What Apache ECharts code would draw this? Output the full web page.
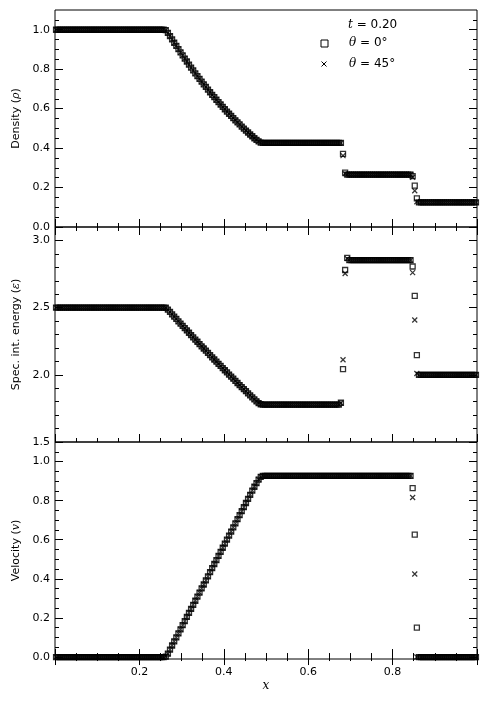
<!DOCTYPE html>
<html><head><meta charset="utf-8">
<script src="https://cdn.jsdelivr.net/npm/echarts@6/dist/echarts.min.js"></script>
<style>html,body{margin:0;padding:0;background:#fff}#c{width:488px;height:703px}</style>
</head><body><div id="c"></div>
<script>
// cell positions
const xs = [
0.0025,0.0075,0.0125,0.0175,0.0225,0.0275,0.0325,0.0375,0.0425,0.0475,
0.0525,0.0575,0.0625,0.0675,0.0725,0.0775,0.0825,0.0875,0.0925,0.0975,
0.1025,0.1075,0.1125,0.1175,0.1225,0.1275,0.1325,0.1375,0.1425,0.1475,
0.1525,0.1575,0.1625,0.1675,0.1725,0.1775,0.1825,0.1875,0.1925,0.1975,
0.2025,0.2075,0.2125,0.2175,0.2225,0.2275,0.2325,0.2375,0.2425,0.2475,
0.2525,0.2575,0.2625,0.2675,0.2725,0.2775,0.2825,0.2875,0.2925,0.2975,
0.3025,0.3075,0.3125,0.3175,0.3225,0.3275,0.3325,0.3375,0.3425,0.3475,
0.3525,0.3575,0.3625,0.3675,0.3725,0.3775,0.3825,0.3875,0.3925,0.3975,
0.4025,0.4075,0.4125,0.4175,0.4225,0.4275,0.4325,0.4375,0.4425,0.4475,
0.4525,0.4575,0.4625,0.4675,0.4725,0.4775,0.4825,0.4875,0.4925,0.4975,
0.5025,0.5075,0.5125,0.5175,0.5225,0.5275,0.5325,0.5375,0.5425,0.5475,
0.5525,0.5575,0.5625,0.5675,0.5725,0.5775,0.5825,0.5875,0.5925,0.5975,
0.6025,0.6075,0.6125,0.6175,0.6225,0.6275,0.6325,0.6375,0.6425,0.6475,
0.6525,0.6575,0.6625,0.6675,0.6725,0.6775,0.6825,0.6875,0.6925,0.6975,
0.7025,0.7075,0.7125,0.7175,0.7225,0.7275,0.7325,0.7375,0.7425,0.7475,
0.7525,0.7575,0.7625,0.7675,0.7725,0.7775,0.7825,0.7875,0.7925,0.7975,
0.8025,0.8075,0.8125,0.8175,0.8225,0.8275,0.8325,0.8375,0.8425,0.8475,
0.8525,0.8575,0.8625,0.8675,0.8725,0.8775,0.8825,0.8875,0.8925,0.8975,
0.9025,0.9075,0.9125,0.9175,0.9225,0.9275,0.9325,0.9375,0.9425,0.9475,
0.9525,0.9575,0.9625,0.9675,0.9725,0.9775,0.9825,0.9875,0.9925,0.9975];

// Density, theta = 0 (squares)
const rho0 = [
1,1,1,1,1,1,1,1,1,1, 1,1,1,1,1,1,1,1,1,1, 1,1,1,1,1,1,1,1,1,1, 1,1,1,1,1,1,1,1,1,1, 1,1,1,1,1,1,1,1,1,1,
1,1,0.998,0.984,0.968,0.951,0.934,0.918,0.902,0.885,
0.870,0.854,0.839,0.823,0.808,0.794,0.779,0.765,0.751,0.737,
0.723,0.710,0.696,0.683,0.670,0.658,0.645,0.633,0.621,0.609,
0.597,0.585,0.574,0.563,0.552,0.541,0.530,0.520,0.509,0.499,
0.489,0.479,0.469,0.460,0.450,0.442,0.434,0.428,0.426,0.426,
0.426,0.426,0.426,0.426,0.426,0.426,0.426,0.426,0.426,0.426,
0.426,0.426,0.426,0.426,0.426,0.426,0.426,0.426,0.426,0.426,
0.426,0.426,0.426,0.426,0.426,0.426,0.426,0.426,0.426,0.426,
0.426,0.426,0.426,0.426,0.426,0.426,0.371,0.276,0.266,0.266,
0.266,0.266,0.266,0.266,0.266,0.266,0.266,0.266,0.266,0.266,
0.266,0.266,0.266,0.266,0.266,0.266,0.266,0.266,0.266,0.266,
0.266,0.266,0.266,0.266,0.266,0.266,0.266,0.266,0.266,0.258,
0.210,0.145,0.125,0.125,0.125,0.125,0.125,0.125,0.125,0.125,
0.125,0.125,0.125,0.125,0.125,0.125,0.125,0.125,0.125,0.125,
0.125,0.125,0.125,0.125,0.125,0.125,0.125,0.125,0.125,0.125];

// Density, theta = 45 (crosses)
const rho45 = [
1,1,1,1,1,1,1,1,1,1, 1,1,1,1,1,1,1,1,1,1, 1,1,1,1,1,1,1,1,1,1, 1,1,1,1,1,1,1,1,1,1, 1,1,1,1,1,1,1,1,1,1,
1,1,0.998,0.984,0.968,0.951,0.934,0.918,0.902,0.885,
0.870,0.854,0.839,0.823,0.808,0.794,0.779,0.765,0.751,0.737,
0.723,0.710,0.696,0.683,0.670,0.658,0.645,0.633,0.621,0.609,
0.597,0.585,0.574,0.563,0.552,0.541,0.530,0.520,0.509,0.499,
0.489,0.479,0.469,0.460,0.450,0.442,0.434,0.428,0.426,0.426,
0.426,0.426,0.426,0.426,0.426,0.426,0.426,0.426,0.426,0.426,
0.426,0.426,0.426,0.426,0.426,0.426,0.426,0.426,0.426,0.426,
0.426,0.426,0.426,0.426,0.426,0.426,0.426,0.426,0.426,0.426,
0.426,0.426,0.426,0.426,0.426,0.426,0.362,0.270,0.266,0.266,
0.266,0.266,0.266,0.266,0.266,0.266,0.266,0.266,0.266,0.266,
0.266,0.266,0.266,0.266,0.266,0.266,0.266,0.266,0.266,0.266,
0.266,0.266,0.266,0.266,0.266,0.266,0.266,0.266,0.266,0.252,
0.184,0.128,0.125,0.125,0.125,0.125,0.125,0.125,0.125,0.125,
0.125,0.125,0.125,0.125,0.125,0.125,0.125,0.125,0.125,0.125,
0.125,0.125,0.125,0.125,0.125,0.125,0.125,0.125,0.125,0.125];

// Specific internal energy, theta = 0
const e0 = [
2.5,2.5,2.5,2.5,2.5,2.5,2.5,2.5,2.5,2.5, 2.5,2.5,2.5,2.5,2.5,2.5,2.5,2.5,2.5,2.5,
2.5,2.5,2.5,2.5,2.5,2.5,2.5,2.5,2.5,2.5, 2.5,2.5,2.5,2.5,2.5,2.5,2.5,2.5,2.5,2.5,
2.5,2.5,2.5,2.5,2.5,2.5,2.5,2.5,2.5,2.5,
2.5,2.5,2.499,2.485,2.468,2.450,2.433,2.416,2.398,2.381,
2.364,2.347,2.330,2.313,2.296,2.279,2.262,2.246,2.229,2.212,
2.196,2.180,2.163,2.147,2.130,2.114,2.098,2.082,2.066,2.050,
2.034,2.018,2.002,1.986,1.971,1.955,1.939,1.924,1.908,1.893,
1.878,1.862,1.847,1.832,1.817,1.803,1.790,1.781,1.778,1.778,
1.778,1.778,1.778,1.778,1.778,1.778,1.778,1.778,1.778,1.778,
1.778,1.778,1.778,1.778,1.778,1.778,1.778,1.778,1.778,1.778,
1.778,1.778,1.778,1.778,1.778,1.778,1.778,1.778,1.778,1.778,
1.778,1.778,1.778,1.778,1.778,1.792,2.042,2.780,2.870,2.853,
2.853,2.853,2.853,2.853,2.853,2.853,2.853,2.853,2.853,2.853,
2.853,2.853,2.853,2.853,2.853,2.853,2.853,2.853,2.853,2.853,
2.853,2.853,2.853,2.853,2.853,2.853,2.853,2.853,2.853,2.806,
2.587,2.146,2.0,2.0,2.0,2.0,2.0,2.0,2.0,2.0,
2.0,2.0,2.0,2.0,2.0,2.0,2.0,2.0,2.0,2.0,
2.0,2.0,2.0,2.0,2.0,2.0,2.0,2.0,2.0,2.0];

// Specific internal energy, theta = 45
const e45 = [
2.5,2.5,2.5,2.5,2.5,2.5,2.5,2.5,2.5,2.5, 2.5,2.5,2.5,2.5,2.5,2.5,2.5,2.5,2.5,2.5,
2.5,2.5,2.5,2.5,2.5,2.5,2.5,2.5,2.5,2.5, 2.5,2.5,2.5,2.5,2.5,2.5,2.5,2.5,2.5,2.5,
2.5,2.5,2.5,2.5,2.5,2.5,2.5,2.5,2.5,2.5,
2.5,2.5,2.499,2.485,2.468,2.450,2.433,2.416,2.398,2.381,
2.364,2.347,2.330,2.313,2.296,2.279,2.262,2.246,2.229,2.212,
2.196,2.180,2.163,2.147,2.130,2.114,2.098,2.082,2.066,2.050,
2.034,2.018,2.002,1.986,1.971,1.955,1.939,1.924,1.908,1.893,
1.878,1.862,1.847,1.832,1.817,1.803,1.790,1.781,1.778,1.778,
1.778,1.778,1.778,1.778,1.778,1.778,1.778,1.778,1.778,1.778,
1.778,1.778,1.778,1.778,1.778,1.778,1.778,1.778,1.778,1.778,
1.778,1.778,1.778,1.778,1.778,1.778,1.778,1.778,1.778,1.778,
1.778,1.778,1.778,1.778,1.778,1.790,2.112,2.754,2.865,2.853,
2.853,2.853,2.853,2.853,2.853,2.853,2.853,2.853,2.853,2.853,
2.853,2.853,2.853,2.853,2.853,2.853,2.853,2.853,2.853,2.853,
2.853,2.853,2.853,2.853,2.853,2.853,2.853,2.853,2.853,2.761,
2.408,2.010,2.0,2.0,2.0,2.0,2.0,2.0,2.0,2.0,
2.0,2.0,2.0,2.0,2.0,2.0,2.0,2.0,2.0,2.0,
2.0,2.0,2.0,2.0,2.0,2.0,2.0,2.0,2.0,2.0];

// Velocity, theta = 0
const v0 = [
0,0,0,0,0,0,0,0,0,0, 0,0,0,0,0,0,0,0,0,0, 0,0,0,0,0,0,0,0,0,0, 0,0,0,0,0,0,0,0,0,0, 0,0,0,0,0,0,0,0,0,0,
0,0,0.002,0.017,0.038,0.059,0.080,0.101,0.121,0.142,
0.163,0.184,0.205,0.226,0.246,0.267,0.288,0.309,0.330,0.351,
0.371,0.392,0.413,0.434,0.455,0.476,0.496,0.517,0.538,0.559,
0.580,0.601,0.621,0.642,0.663,0.684,0.705,0.726,0.746,0.767,
0.788,0.809,0.830,0.851,0.871,0.890,0.908,0.922,0.927,0.927,
0.927,0.927,0.927,0.927,0.927,0.927,0.927,0.927,0.927,0.927,
0.927,0.927,0.927,0.927,0.927,0.927,0.927,0.927,0.927,0.927,
0.927,0.927,0.927,0.927,0.927,0.927,0.927,0.927,0.927,0.927,
0.927,0.927,0.927,0.927,0.927,0.927,0.927,0.927,0.927,0.927,
0.927,0.927,0.927,0.927,0.927,0.927,0.927,0.927,0.927,0.927,
0.927,0.927,0.927,0.927,0.927,0.927,0.927,0.927,0.927,0.927,
0.927,0.927,0.927,0.927,0.927,0.927,0.927,0.927,0.927,0.864,
0.626,0.151,0,0,0,0,0,0,0,0,
0,0,0,0,0,0,0,0,0,0,
0,0,0,0,0,0,0,0,0,0];

// Velocity, theta = 45
const v45 = [
0,0,0,0,0,0,0,0,0,0, 0,0,0,0,0,0,0,0,0,0, 0,0,0,0,0,0,0,0,0,0, 0,0,0,0,0,0,0,0,0,0, 0,0,0,0,0,0,0,0,0,0,
0,0,0.002,0.017,0.038,0.059,0.080,0.101,0.121,0.142,
0.163,0.184,0.205,0.226,0.246,0.267,0.288,0.309,0.330,0.351,
0.371,0.392,0.413,0.434,0.455,0.476,0.496,0.517,0.538,0.559,
0.580,0.601,0.621,0.642,0.663,0.684,0.705,0.726,0.746,0.767,
0.788,0.809,0.830,0.851,0.871,0.890,0.908,0.922,0.927,0.927,
0.927,0.927,0.927,0.927,0.927,0.927,0.927,0.927,0.927,0.927,
0.927,0.927,0.927,0.927,0.927,0.927,0.927,0.927,0.927,0.927,
0.927,0.927,0.927,0.927,0.927,0.927,0.927,0.927,0.927,0.927,
0.927,0.927,0.927,0.927,0.927,0.927,0.927,0.927,0.927,0.927,
0.927,0.927,0.927,0.927,0.927,0.927,0.927,0.927,0.927,0.927,
0.927,0.927,0.927,0.927,0.927,0.927,0.927,0.927,0.927,0.927,
0.927,0.927,0.927,0.927,0.927,0.927,0.927,0.927,0.927,0.816,
0.425,0,0,0,0,0,0,0,0,0,
0,0,0,0,0,0,0,0,0,0,
0,0,0,0,0,0,0,0,0,0];

// tick values
const xTicks = [0.2, 0.4, 0.6, 0.8];
const densityTicks = [0, 0.2, 0.4, 0.6, 0.8, 1.0];
const densityMinor = [0.05,0.1,0.15,0.25,0.3,0.35,0.45,0.5,0.55,0.65,0.7,0.75,0.85,0.9,0.95,1.05];
const energyTicks = [1.5, 2.0, 2.5, 3.0];
const energyMinor = [1.6,1.7,1.8,1.9,2.1,2.2,2.3,2.4,2.6,2.7,2.8,2.9];
const velocityTicks = [0, 0.2, 0.4, 0.6, 0.8, 1.0];
const velocityMinor = [0.05,0.1,0.15,0.25,0.3,0.35,0.45,0.5,0.55,0.65,0.7,0.75,0.85,0.9,0.95,1.05];

const panels = [
  {name: 'Density ({i|ρ})', a: rho0, b: rho45, min: 0, max: 1.1, major: densityTicks, minor: densityMinor},
  {name: 'Spec. int. energy ({i|ε})', a: e0, b: e45, min: 1.5, max: 3.1, major: energyTicks, minor: energyMinor},
  {name: 'Velocity ({i|v})', a: v0, b: v45, min: -0.01, max: 1.1, major: velocityTicks, minor: velocityMinor}
];
const gridPos = [{top: 10, height: 217}, {top: 227, height: 215}, {top: 442, height: 217}];

const FONT = 'DejaVu Sans';
const black = '#000';
const grids = [], xAxes = [], yAxes = [], series = [];

panels.forEach((p, gi) => {
  grids.push({left: 55, width: 422, top: gridPos[gi].top, height: gridPos[gi].height,
    show: true, borderColor: black, borderWidth: 1, backgroundColor: 'transparent', containLabel: false});
  ['bottom', 'top'].forEach(pos => {
    const isLabelled = (pos === 'bottom' && gi === 2);
    xAxes.push({
      type: 'value', gridIndex: gi, position: pos, min: 0, max: 1, interval: 0.2,
      axisLine: {show: false}, splitLine: {show: false},
      axisTick: {show: true, inside: true, length: 8, lineStyle: {color: black, width: 1}},
      minorTick: {show: true, splitNumber: 4, length: 4, lineStyle: {color: black, width: 1}},
      axisLabel: isLabelled ? {show: true, customValues: xTicks, margin: 8, fontSize: 11, color: black, fontFamily: FONT,
        formatter: v => v.toFixed(1)} : {show: false},
      name: isLabelled ? 'x' : '', nameLocation: 'middle', nameGap: 21,
      nameTextStyle: {fontStyle: 'italic', fontFamily: 'DejaVu Serif', fontSize: 12, color: black}
    });
  });
  ['left', 'right'].forEach(pos => {
    yAxes.push({
      type: 'value', gridIndex: gi, position: pos, min: p.min, max: p.max,
      axisLine: {show: false}, splitLine: {show: false},
      axisTick: {show: true, inside: true, length: 8, customValues: p.major, lineStyle: {color: black, width: 1}},
      axisLabel: pos === 'left' ? {show: true, customValues: p.major, margin: 5, fontSize: 11, color: black, fontFamily: FONT,
        formatter: v => v.toFixed(1)} : {show: false},
      name: pos === 'left' ? p.name : '', nameLocation: 'middle', nameGap: 31, nameRotate: 90,
      nameTextStyle: {fontSize: 11, color: black, fontFamily: FONT,
        rich: {i: {fontStyle: 'italic', fontFamily: 'DejaVu Serif', fontSize: 11, color: black}}}
    });
    yAxes.push({
      type: 'value', gridIndex: gi, position: pos, min: p.min, max: p.max,
      axisLine: {show: false}, splitLine: {show: false},
      axisTick: {show: true, inside: true, length: 4, customValues: p.minor, lineStyle: {color: black, width: 1}},
      axisLabel: {show: false}
    });
  });
  const xi = gi * 2, yi = gi * 4;
  series.push({
    type: 'scatter', name: 'θ = 0°', xAxisIndex: xi, yAxisIndex: yi, silent: true,
    symbol: 'rect', symbolSize: 5,
    itemStyle: {color: 'rgba(0,0,0,0)', borderColor: black, borderWidth: 1.3},
    data: xs.map((x, k) => [x, p.a[k]])
  });
  series.push({
    type: 'scatter', name: 'θ = 45°', xAxisIndex: xi, yAxisIndex: yi, silent: true,
    symbol: 'path://M0 0L10 10M10 0L0 10', symbolSize: 5,
    itemStyle: {color: 'rgba(0,0,0,0)', borderColor: black, borderWidth: 1.2},
    data: xs.map((x, k) => [x, p.b[k]])
  });
});

const rich = {i: {fontStyle: 'italic', fontFamily: 'DejaVu Serif', fontSize: 12, fill: black}};
const chart = echarts.init(document.getElementById('c'), null, {renderer: 'canvas'});
chart.setOption({
  animation: false,
  backgroundColor: '#fff',
  grid: grids, xAxis: xAxes, yAxis: yAxes, series: series,
  graphic: [
    {type: 'text', x: 348, y: 25, style: {text: '{i|t} = 0.20', font: '12px "DejaVu Sans"', fill: black, verticalAlign: 'middle', rich: rich}},
    {type: 'rect', shape: {x: 321, y: 40, width: 7, height: 7}, style: {fill: 'none', stroke: black, lineWidth: 1}},
    {type: 'text', x: 349, y: 43, style: {text: '{i|θ} = 0°', font: '12px "DejaVu Sans"', fill: black, verticalAlign: 'middle', rich: rich}},
    {type: 'polyline', shape: {points: [[321.5, 61.5], [326.5, 66.5]]}, style: {stroke: black, lineWidth: 1}},
    {type: 'polyline', shape: {points: [[321.5, 66.5], [326.5, 61.5]]}, style: {stroke: black, lineWidth: 1}},
    {type: 'text', x: 349, y: 64, style: {text: '{i|θ} = 45°', font: '12px "DejaVu Sans"', fill: black, verticalAlign: 'middle', rich: rich}}
  ]
});
</script></body></html>
